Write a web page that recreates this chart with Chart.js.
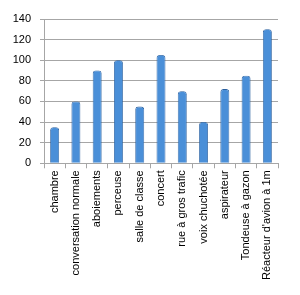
<!DOCTYPE html>
<html><head><meta charset="utf-8">
<script src="https://cdn.jsdelivr.net/npm/chart.js@4"></script>
<style>html,body{margin:0;padding:0;background:#fff}#w{width:300px;height:295px}</style>
</head><body><div id="w"><canvas id="c"></canvas></div>
<script>
const categories = ["chambre","conversation normale","aboiements","perceuse","salle de classe","concert","rue à gros trafic","voix chuchotée","aspirateur","Tondeuse à gazon","Réacteur d'avion à 1m"];
const values = [35,60,90,100,55,105,70,40,72,85,130];
const yTicks = [0,20,40,60,80,100,120,140];

function barFill(ctx){
  const el = ctx.element;
  const c = ctx.chart.ctx;
  if(!el || el.x===undefined || !el.width) return '#4a8fd8';
  const x0 = el.x - el.width/2, x1 = el.x + el.width/2;
  const g = c.createLinearGradient(x0,0,x1,0);
  g.addColorStop(0,'#2f6db5');
  g.addColorStop(0.4,'#5ea3ea');
  g.addColorStop(1,'#2e6bb2');
  return g;
}

new Chart(document.getElementById('c'),{
  type:'bar',
  data:{labels:categories,datasets:[{data:values,backgroundColor:barFill,borderColor:'#2a5f9e',borderWidth:0.8,barPercentage:0.42,categoryPercentage:1,borderRadius:{topLeft:3,topRight:3}}]},
  options:{
    responsive:true,maintainAspectRatio:false,animation:false,
    layout:{padding:{left:0,right:22,top:19,bottom:13}},
    plugins:{legend:{display:false},tooltip:{enabled:false}},
    scales:{
      y:{min:0,max:140,
        afterBuildTicks:(s)=>{s.ticks=yTicks.map(v=>({value:v}));},
        afterFit:(s)=>{s.width=44;},
        ticks:{color:'#000',font:{family:'Liberation Sans',size:11},padding:9},
        grid:{color:'#a6a6a6',lineWidth:1,tickLength:4,drawTicks:true},
        border:{color:'#a6a6a6'}},
      x:{
        ticks:{color:'#000',font:{family:'Liberation Sans',size:11},minRotation:90,maxRotation:90,autoSkip:false,padding:2},
        grid:{display:true,drawOnChartArea:false,drawTicks:true,tickLength:5,offset:true,color:'#a6a6a6'},
        border:{color:'#a6a6a6'}}
    }
  }
});
</script></body></html>
